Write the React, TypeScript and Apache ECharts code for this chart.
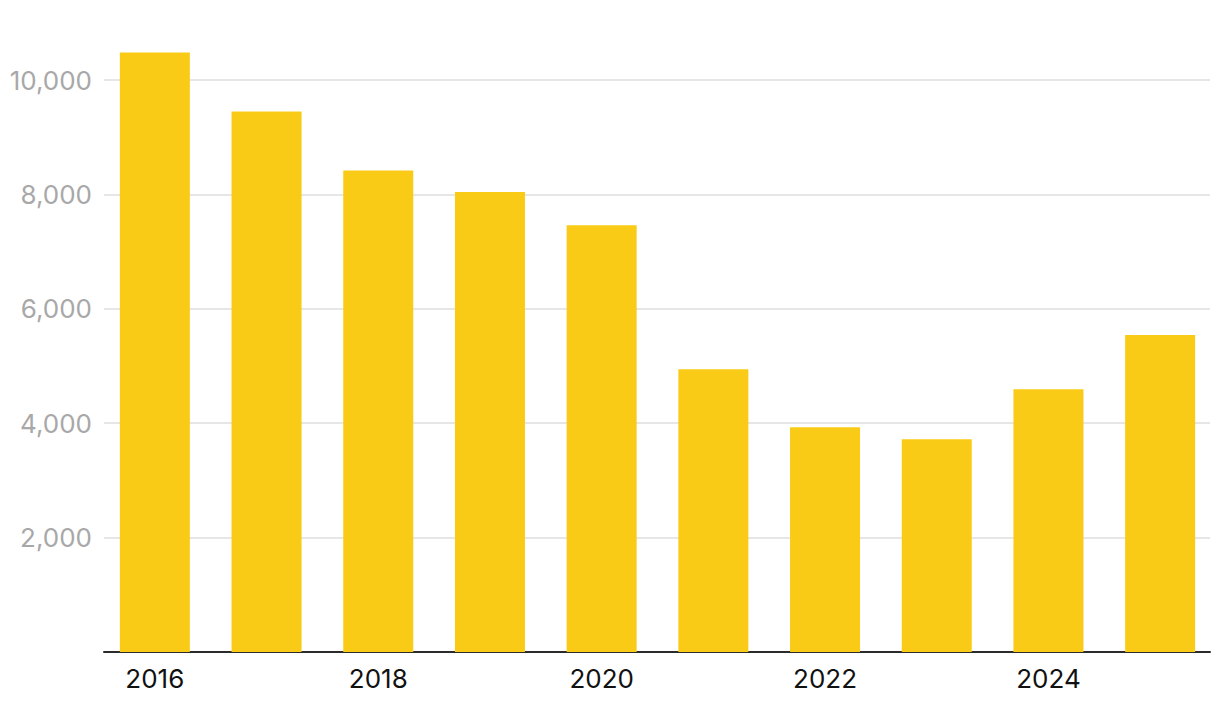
import React, { useEffect, useRef } from "react";
import * as echarts from "echarts";

const years = ["2016", "2017", "2018", "2019", "2020", "2021", "2022", "2023", "2024", "2025"];
const values = [10480, 9450, 8420, 8040, 7460, 4945, 3930, 3720, 4595, 5540];
const yTicks = [0, 2000, 4000, 6000, 8000, 10000];

export default function App() {
  const ref = useRef<HTMLDivElement>(null);
  useEffect(() => {
    if (!ref.current) return;
    const chart = echarts.init(ref.current, null, { renderer: "svg" });
    const font = "Inter";
    chart.setOption({
      animation: false,
      grid: [
        { left: 104, right: 10, top: 80, bottom: 60 },
        { left: 99, right: 4, top: 80, bottom: 60 },
      ],
      xAxis: [
        {
          type: "category",
          gridIndex: 0,
          data: years,
          axisLine: { show: true, lineStyle: { color: "#2b2b2b", width: 2 } },
          axisTick: { show: false },
          axisLabel: { show: false },
        },
        {
          type: "category",
          gridIndex: 1,
          data: years,
          boundaryGap: true,
          axisLine: { show: false },
          axisTick: { show: false },
          axisLabel: {
            interval: 1,
            color: "#111",
            fontFamily: font,
            fontSize: 26,
            margin: 13,
          },
        },
      ],
      yAxis: [
        {
          type: "value",
          gridIndex: 0,
          min: yTicks[0],
          max: yTicks[yTicks.length - 1],
          interval: 2000,
          axisLine: { show: false },
          axisTick: { show: false },
          splitLine: { show: true, lineStyle: { color: "#e6e6e6", width: 2 } },
          axisLabel: {
            showMinLabel: false,
            color: "#a8a8a8",
            fontFamily: font,
            fontSize: 26,
            margin: 12,
            formatter: (v: number) => (v === 0 ? "" : v.toLocaleString("en-US")),
          },
        },
        {
          type: "value",
          gridIndex: 1,
          min: yTicks[0],
          max: yTicks[yTicks.length - 1],
          show: false,
          splitLine: { show: false },
        },
      ],
      series: [
        {
          type: "bar",
          xAxisIndex: 1,
          yAxisIndex: 1,
          data: values,
          barWidth: 70,
          clip: false,
          itemStyle: { color: "#F9CB16" },
          z: 3,
        },
      ],
    });
    return () => chart.dispose();
  }, []);
  return (
    <div
      ref={ref}
      style={{ position: "absolute", left: 0, top: 0, width: 1220, height: 712 }}
    />
  );
}
